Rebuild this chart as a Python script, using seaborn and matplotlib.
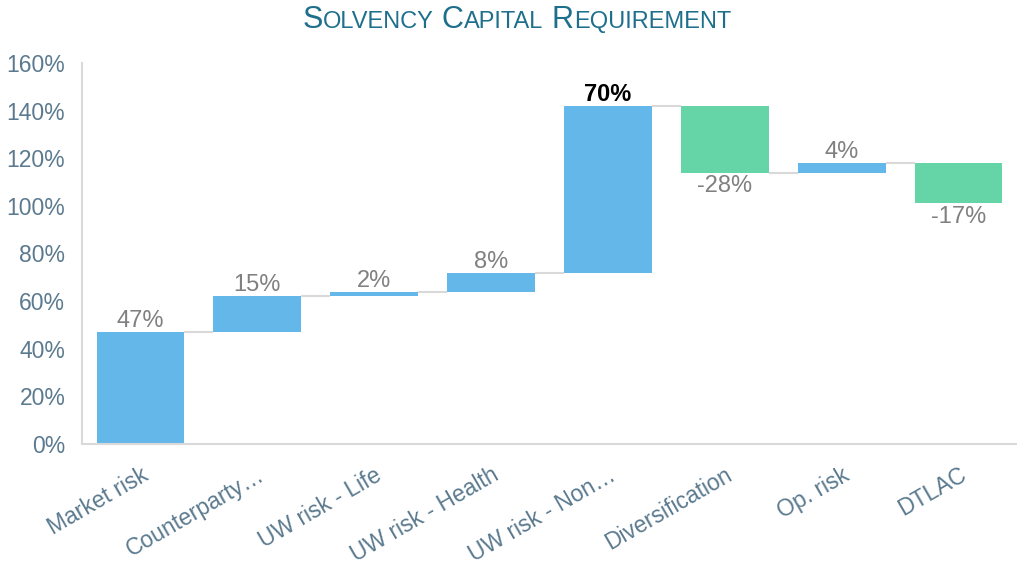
import matplotlib
matplotlib.use("Agg")
import matplotlib.pyplot as plt
import numpy as np
import pandas as pd
import seaborn as sns

categories = ["Market risk", "Counterparty…", "UW risk - Life", "UW risk - Health",
              "UW risk - Non…", "Diversification", "Op. risk", "DTLAC"]
values = [47, 15, 2, 8, 70, -28, 4, -17]
labels = ["47%", "15%", "2%", "8%", "70%", "-28%", "4%", "-17%"]

BLUE = "#63b7e9"
GREEN = "#65d5a7"
TICK = "#5b7a8f"
LABEL = "#808080"
TITLE = "#1d6f8c"
LINE = "#d9d9d9"

sns.set_theme(style="white")
plt.rcParams["font.family"] = ["Liberation Sans", "DejaVu Sans"]

ends = np.cumsum(values)
starts = ends - np.array(values)
df = pd.DataFrame({
    "category": categories,
    "height": np.abs(values),
    "bottom": np.minimum(starts, ends),
})

fig = plt.figure(figsize=(10.17, 5.72), dpi=100)
ax = fig.add_axes([0.0806, 0.2238, 0.9194, 0.6661])

sns.barplot(data=df, x="category", y="height", bottom=df["bottom"],
            order=categories, width=0.75, color=BLUE, saturation=1,
            ax=ax)
for patch, v in zip(ax.patches, values):
    patch.set_facecolor(BLUE if v > 0 else GREEN)
    patch.set_edgecolor("none")

# connectors between bars
half = 0.75 / 2
for i in range(len(values) - 1):
    ax.hlines(ends[i], i + half, i + 1 - half, color=LINE, lw=1.5, zorder=0)

# value labels
for i, (v, lab) in enumerate(zip(values, labels)):
    top = max(starts[i], ends[i])
    bot = min(starts[i], ends[i])
    bold = v == 70
    if v > 0:
        ax.annotate(lab, (i, top), xytext=(0, 0), textcoords="offset points",
                    ha="center", va="bottom", fontsize=17,
                    color="black" if bold else LABEL,
                    fontweight="bold" if bold else "normal")
    else:
        ax.annotate(lab, (i, bot), xytext=(0, -2), textcoords="offset points",
                    ha="center", va="top", fontsize=17, color=LABEL)

ax.set_xlim(-0.5, len(values) - 0.5)
ax.set_ylim(0, 160)
ax.set_yticks(range(0, 161, 20))
ax.set_yticklabels([f"{t}%" for t in range(0, 161, 20)])
ax.set_xlabel("")
ax.set_ylabel("")
ax.tick_params(axis="y", length=0, pad=12, labelsize=16.5, labelcolor=TICK)
ax.tick_params(axis="x", length=0, pad=14, labelsize=16.5, labelcolor=TICK)
plt.setp(ax.get_xticklabels(), rotation=30, ha="right", rotation_mode="anchor")

sns.despine(ax=ax)
for s in ["left", "bottom"]:
    ax.spines[s].set_color(LINE)
    ax.spines[s].set_linewidth(1.5)

# small-caps title
title_words = ["Solvency", "Capital", "Requirement"]
pieces = []
for w_i, w in enumerate(title_words):
    if w_i:
        pieces.append((" ", 22))
    pieces.append((w[0].upper(), 22))
    pieces.append((w[1:].upper(), 17))

renderer = fig.canvas.get_renderer()
texts = []
for s, size in pieces:
    t = fig.text(0, 0, s, fontsize=size, color=TITLE, ha="left",
                 va="baseline", transform=None)
    texts.append(t)
widths = [t.get_window_extent(renderer).width for t in texts]
total = sum(widths)
x0 = fig.bbox.width * 0.5 - total / 2 + 8
for t, w in zip(texts, widths):
    t.set_x(x0)
    t.set_y(fig.bbox.height - 28)
    x0 += w

fig.savefig("out.png", dpi=100)
